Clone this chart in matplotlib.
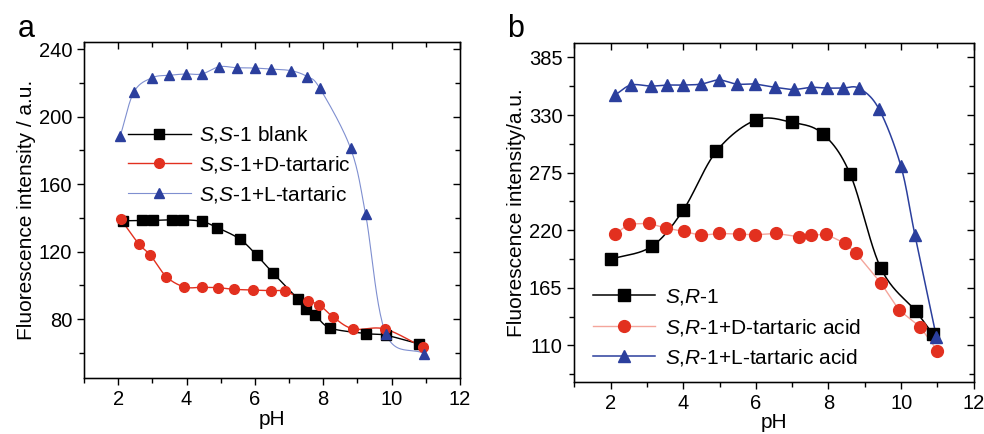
import numpy as np
import matplotlib
matplotlib.use('Agg')
import matplotlib.pyplot as plt
from matplotlib.lines import Line2D
from matplotlib.ticker import MultipleLocator

plt.rcParams['font.family'] = ['Liberation Sans', 'DejaVu Sans']
plt.rcParams['mathtext.fontset'] = 'custom'
plt.rcParams['mathtext.rm'] = 'Liberation Sans'
plt.rcParams['mathtext.it'] = 'Liberation Sans:italic'

BLACK = '#000000'
RED = '#e2301f'
BLUE = '#2b3f9d'

# panel a: S,S-1
ph_a_blank = [2.15, 2.69, 3.02, 3.58, 3.91, 4.45, 4.89, 5.56, 6.06, 6.52, 7.25, 7.49, 7.76, 8.2, 9.24, 9.83, 10.81]
fl_a_blank = [138.3, 138.5, 138.5, 138.9, 138.9, 137.9, 134.3, 127.4, 117.7, 107.5, 92.1, 86.0, 82.6, 74.7, 71.4, 70.4, 65.2]
ph_a_d = [2.08, 2.6, 2.94, 3.41, 3.94, 4.45, 4.92, 5.4, 5.94, 6.46, 6.87, 7.56, 7.89, 8.29, 8.88, 9.8, 10.93]
fl_a_d = [139.1, 124.6, 117.9, 105.1, 99.0, 98.8, 98.6, 97.6, 97.2, 96.8, 96.4, 90.7, 88.3, 81.2, 74.1, 74.1, 63.2]
ph_a_l = [2.06, 2.46, 3.0, 3.5, 3.98, 4.45, 4.96, 5.47, 6.0, 6.46, 7.07, 7.53, 7.9, 8.8, 9.24, 9.83, 10.95]
fl_a_l = [188.6, 214.7, 223.2, 224.6, 225.4, 225.4, 229.7, 229.1, 228.9, 228.3, 227.3, 223.8, 216.9, 181.3, 142.2, 71.4, 59.5]

# panel b: S,R-1
ph_b_blank = [2.02, 3.13, 4.0, 4.91, 6.0, 7.0, 7.84, 8.6, 9.44, 10.4, 10.88]
fl_b_blank = [192.4, 204.5, 239.2, 295.2, 325.2, 322.9, 312.1, 273.3, 183.8, 142.8, 120.5]
ph_b_d = [2.12, 2.5, 3.06, 3.52, 4.01, 4.49, 4.99, 5.53, 5.98, 6.55, 7.2, 7.52, 7.93, 8.46, 8.75, 9.45, 9.94, 10.52, 11.0]
fl_b_d = [216.0, 225.9, 226.5, 222.0, 218.9, 215.0, 216.9, 216.3, 215.6, 216.9, 213.7, 215.0, 216.3, 207.4, 198.5, 169.2, 143.8, 127.8, 104.9]
ph_b_l = [2.12, 2.56, 3.11, 3.54, 4.0, 4.49, 4.98, 5.48, 5.97, 6.53, 7.04, 7.52, 7.97, 8.4, 8.85, 9.39, 9.99, 10.38, 10.97]
fl_b_l = [349.0, 358.6, 357.6, 358.6, 358.6, 359.5, 363.4, 359.5, 359.5, 356.4, 354.4, 356.4, 355.7, 355.7, 355.4, 335.7, 281.6, 215.4, 118.3]

labels_a = [r'$\mathit{S{,}S}$-1 blank', r'$\mathit{S{,}S}$-1+D-tartaric', r'$\mathit{S{,}S}$-1+L-tartaric']
labels_b = [r'$\mathit{S{,}R}$-1', r'$\mathit{S{,}R}$-1+D-tartaric acid', r'$\mathit{S{,}R}$-1+L-tartaric acid']


def smooth(x, y, n=24):
    # catmull-rom through the points, roughly what Origin's spline looks like
    pts = np.column_stack([x, y]).astype(float)
    p = np.vstack([2 * pts[0] - pts[1], pts, 2 * pts[-1] - pts[-2]])
    t = np.linspace(0, 1, n, endpoint=False)[:, None]
    out = []
    for i in range(1, len(p) - 2):
        p0, p1, p2, p3 = p[i - 1], p[i], p[i + 1], p[i + 2]
        seg = 0.5 * (2 * p1 + (-p0 + p2) * t + (2 * p0 - 5 * p1 + 4 * p2 - p3) * t ** 2
                     + (-p0 + 3 * p1 - 3 * p2 + p3) * t ** 3)
        out.append(seg)
    out.append(pts[-1:])
    s = np.vstack(out)
    return s[:, 0], s[:, 1]


def style_axes(ax, xlim, ylim, ymaj, ymin):
    ax.set_xlim(*xlim)
    ax.set_ylim(*ylim)
    ax.xaxis.set_major_locator(MultipleLocator(2))
    ax.xaxis.set_minor_locator(MultipleLocator(1))
    ax.yaxis.set_major_locator(MultipleLocator(ymaj))
    ax.yaxis.set_minor_locator(MultipleLocator(ymin))
    ax.tick_params(which='major', direction='out', length=5, width=1, labelsize=14.5)
    ax.tick_params(which='minor', direction='out', length=3.5, width=1)
    for sp in ax.spines.values():
        sp.set_linewidth(1)
    # mirrored ticks pointing inward on top and right
    tx = ax.twiny()
    tx.set_xlim(*xlim)
    tx.xaxis.set_major_locator(MultipleLocator(2))
    tx.xaxis.set_minor_locator(MultipleLocator(1))
    tx.tick_params(which='both', direction='in', labeltop=False, width=1)
    tx.tick_params(which='major', length=5)
    tx.tick_params(which='minor', length=3.5)
    ty = ax.twinx()
    ty.set_ylim(*ylim)
    ty.yaxis.set_major_locator(MultipleLocator(ymaj))
    ty.yaxis.set_minor_locator(MultipleLocator(ymin))
    ty.tick_params(which='both', direction='in', labelright=False, width=1)
    ty.tick_params(which='major', length=5)
    ty.tick_params(which='minor', length=3.5)


fig = plt.figure(figsize=(9.84, 4.34), dpi=100)

# ---- panel a
ax1 = fig.add_axes([0.0854, 0.129, 0.382, 0.774])
xs, ys = smooth(ph_a_blank, fl_a_blank)
ax1.plot(xs, ys, color=BLACK, lw=1, zorder=2)
xs, ys = smooth(ph_a_d, fl_a_d)
ax1.plot(xs, ys, color=RED, lw=1, zorder=2)
xs, ys = smooth(ph_a_l, fl_a_l)
ax1.plot(xs, ys, color='#7f8fd0', lw=0.8, zorder=2)
ax1.plot(ph_a_blank, fl_a_blank, 's', color=BLACK, ms=6.5, zorder=3)
ax1.plot(ph_a_d, fl_a_d, 'o', color=RED, ms=7, zorder=4)
ax1.plot(ph_a_l, fl_a_l, '^', color=BLUE, ms=7.5, zorder=5)
style_axes(ax1, (1, 12), (45, 244.3), 40, 20)
ax1.set_xlabel('pH', fontsize=15, labelpad=1)
ax1.set_ylabel('Fluorescence intensity / a.u.', fontsize=15, labelpad=2)
h_a = [Line2D([], [], color=BLACK, lw=1, marker='s', ms=6.5),
       Line2D([], [], color=RED, lw=1, marker='o', ms=7),
       Line2D([], [], color='#7f8fd0', lw=0.8, marker='^', ms=7.5, mfc=BLUE, mec=BLUE)]
ax1.legend(h_a, labels_a, loc='upper left', bbox_to_anchor=(0.117, 0.755), frameon=False,
           fontsize=15, borderpad=0, borderaxespad=0, handlelength=3.0, handletextpad=0.4,
           labelspacing=0.42)
fig.text(0.018, 0.915, 'a', fontsize=22)

# ---- panel b
ax2 = fig.add_axes([0.5836, 0.119, 0.406, 0.7825])
xs, ys = smooth(ph_b_blank, fl_b_blank)
ax2.plot(xs, ys, color=BLACK, lw=1.1, zorder=2)
ax2.plot(ph_b_d, fl_b_d, color='#f4a59b', lw=1, zorder=2)
xs, ys = smooth(ph_b_l, fl_b_l)
ax2.plot(xs, ys, color=BLUE, lw=1.1, zorder=2)
ax2.plot(ph_b_blank, fl_b_blank, 's', color=BLACK, ms=8, zorder=4)
ax2.plot(ph_b_d, fl_b_d, 'o', color=RED, ms=8.5, zorder=3)
ax2.plot(ph_b_l, fl_b_l, '^', color=BLUE, ms=9, zorder=5)
style_axes(ax2, (1, 12), (74.7, 399), 55, 27.5)
ax2.set_xlabel('pH', fontsize=15, labelpad=0)
ax2.set_ylabel('Fluorescence intensity/a.u.', fontsize=15, labelpad=2)
h_b = [Line2D([], [], color=BLACK, lw=1.1, marker='s', ms=8),
       Line2D([], [], color='#f4a59b', lw=1, marker='o', ms=8.5, mfc=RED, mec=RED),
       Line2D([], [], color=BLUE, lw=1.1, marker='^', ms=9)]
ax2.legend(h_b, labels_b, loc='upper left', bbox_to_anchor=(0.046, 0.28), frameon=False,
           fontsize=15, borderpad=0, borderaxespad=0, handlelength=3.0, handletextpad=0.45,
           labelspacing=0.45)
fig.text(0.515, 0.915, 'b', fontsize=22)

fig.savefig('out.png', dpi=100)
